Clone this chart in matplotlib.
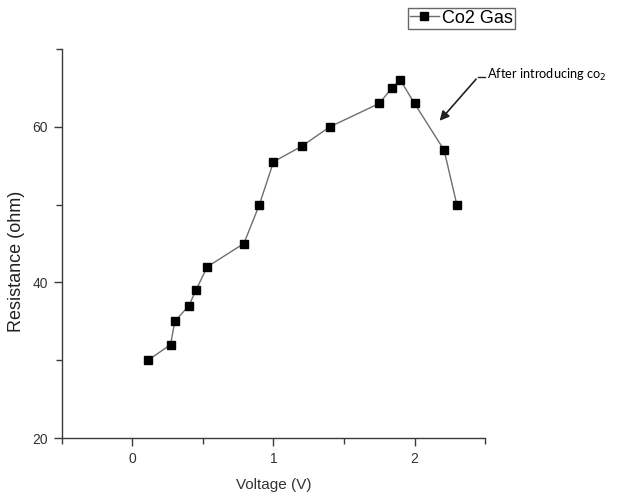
import numpy as np
import matplotlib.pyplot as plt
from matplotlib.ticker import FixedLocator

# data
voltage = [0.11, 0.27, 0.30, 0.40, 0.45, 0.53, 0.79, 0.90, 1.00, 1.20,
           1.40, 1.75, 1.84, 1.90, 2.00, 2.21, 2.30]
resistance = [30, 32, 35, 37, 39, 42, 45, 50, 55.5, 57.5,
              60, 63, 65, 66, 63, 57, 50]
series_name = 'Co2 Gas'
note = 'After introducing co$_2$'

plt.rcParams['font.family'] = ['Liberation Sans', 'DejaVu Sans']
axis_col = '#3a3a3a'

fig = plt.figure(figsize=(6.23, 4.97), dpi=100)
ax = fig.add_axes([0.0995, 0.1187, 0.679, 0.7827])

ax.plot(voltage, resistance, color='#6e6e6e', lw=1.0, marker='s',
        ms=6, mfc='black', mec='black', label=series_name)

ax.set_xlim(-0.5, 2.5)
ax.set_ylim(20, 70)
ax.set_xticks([0, 1, 2])
ax.set_yticks([20, 40, 60])
ax.xaxis.set_minor_locator(FixedLocator([-0.5, 0.5, 1.5, 2.5]))
ax.yaxis.set_minor_locator(FixedLocator([30, 50, 70]))

for s in ['top', 'right']:
    ax.spines[s].set_visible(False)
for s in ['left', 'bottom']:
    ax.spines[s].set_color(axis_col)
    ax.spines[s].set_linewidth(1.0)

ax.tick_params(which='major', direction='out', length=6, width=1,
               color=axis_col, labelsize=10, labelcolor='#333333', pad=4)
ax.tick_params(which='minor', direction='out', length=4, width=1,
               color=axis_col)

ax.set_xlabel('Voltage (V)', fontsize=11, color='#333333', labelpad=9)
ax.set_ylabel('Resistance (ohm)', fontsize=13, color='#222222')
ax.yaxis.set_label_coords(-0.088, 0.455)

# arrow + note
ax.annotate('', xy=(2.165, 60.5), xytext=(2.45, 66.4),
            arrowprops=dict(arrowstyle='-|>', color='#222222', lw=1.2,
                            mutation_scale=14))
ax.plot([2.45, 2.50], [66.4, 66.4], color='#222222', lw=1, clip_on=False)
fig.text(0.782, 0.849, note, fontsize=9.2, family=['Lato', 'DejaVu Sans'],
         color='black', va='center', ha='left')

leg = fig.legend(loc='upper left', bbox_to_anchor=(0.655, 0.984),
                 fontsize=13, handlelength=1.6, handletextpad=0.2,
                 borderpad=0.1, borderaxespad=0, fancybox=False,
                 framealpha=1)
leg.get_frame().set_edgecolor('#666666')
leg.get_frame().set_linewidth(1.0)

fig.savefig('out.png', dpi=100)
